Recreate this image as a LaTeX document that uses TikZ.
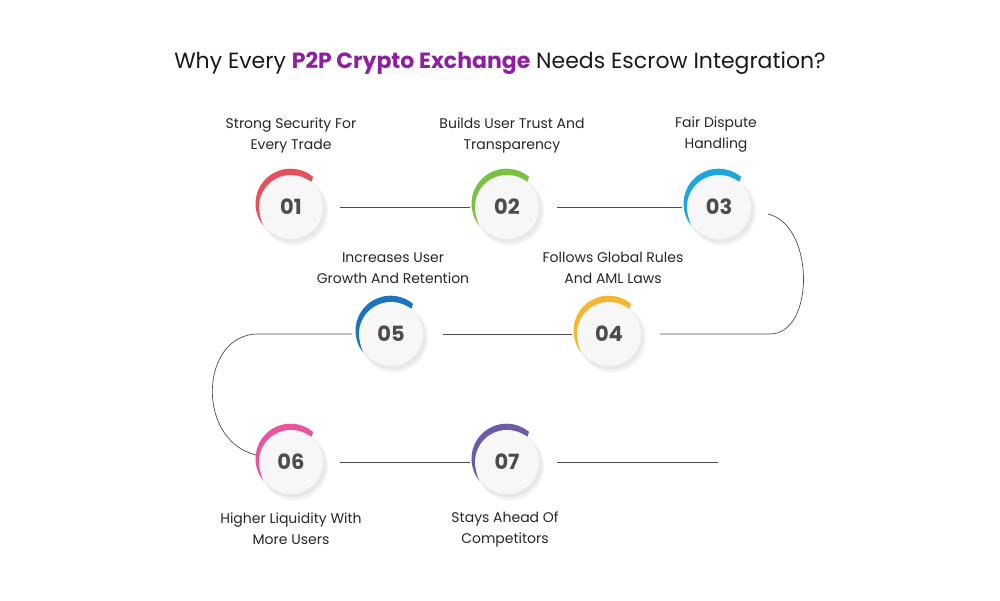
\documentclass[tikz,border=0pt]{standalone}
\usepackage{fontspec}
\setmainfont{Poppins}
\usetikzlibrary{calc}
\definecolor{ttl}{HTML}{8E1FA3}
\definecolor{cA}{HTML}{E94E5A}
\definecolor{cB}{HTML}{7AC142}
\definecolor{cC}{HTML}{1BA6E0}
\definecolor{cD}{HTML}{F5B731}
\definecolor{cE}{HTML}{1E73BE}
\definecolor{cF}{HTML}{E8559D}
\definecolor{cG}{HTML}{6E5BA8}
\tikzset{
 lbl/.style={font=\fontsize{14}{21}\selectfont, align=center, text=black!85},
 num/.style={circle, minimum size=64pt, inner sep=0pt, fill=white!97!black, font=\fontsize{21}{24}\selectfont\bfseries, text=black!70},
 conn/.style={draw=black!70, line width=0.7pt}
}
\newcommand{\stepc}[4]{%
 \fill[#4] ($(#2-2,#3+2)+(220:33)$) arc (220:50:35) -- ($(#2,#3)+(50:31)$) arc (50:220:31) -- cycle;
 \fill[black!5] (#2+3,#3-4) circle (34pt);
 \fill[black!9] (#2+2,#3-3) circle (32.5pt);
}
\begin{document}
\begin{tikzpicture}[x=1pt,y=1pt]
\useasboundingbox (0,0) rectangle (1000,600);
\node[font=\fontsize{22}{26}\selectfont, text=black!90] (title) at (500,537) {Why Every {\bfseries\color{ttl}P2P Crypto Exchange} Needs Escrow Integration?};
\stepc{a}{291}{393}{cA}
\stepc{b}{507}{393}{cB}
\stepc{c}{719}{393}{cC}
\stepc{d}{609}{266}{cD}
\stepc{e}{391}{266}{cE}
\stepc{f}{291}{138}{cF}
\stepc{g}{507}{138}{cG}
\node[num] (n1) at (291,393) {01};
\node[num] (n2) at (507,393) {02};
\node[num] (n3) at (719,393) {03};
\node[num] (n4) at (609,266) {04};
\node[num] (n5) at (391,266) {05};
\node[num] (n6) at (291,138) {06};
\node[num] (n7) at (507,138) {07};
\coordinate (end) at (718,138);
\draw[conn] (340,393) -- (470,393);
\draw[conn] (557,393) -- (682,393);
\draw[conn] (768,386) .. controls (815,375) and (815,266) .. (770,266) -- (660,266);
\draw[conn] (572,266) -- (443,266);
\draw[conn] (352,266) -- (258,266) .. controls (200,266) and (195,160) .. (256,145);
\draw[conn] (340,138) -- (470,138);
\draw[conn] (557,138) -- (end);
\node[lbl] (l1) at (291,465) {Strong Security For\\Every Trade};
\node[lbl] (l2) at (512,465) {Builds User Trust And\\Transparency};
\node[lbl] (l3) at (716,465) {Fair Dispute\\Handling};
\node[lbl] (l4) at (613,332) {Follows Global Rules\\And AML Laws};
\node[lbl] (l5) at (393,332) {Increases User\\Growth And Retention};
\node[lbl] (l6) at (291,71) {Higher Liquidity With\\More Users};
\node[lbl] (l7) at (505,71) {Stays Ahead Of\\Competitors};
\end{tikzpicture}
\end{document}
